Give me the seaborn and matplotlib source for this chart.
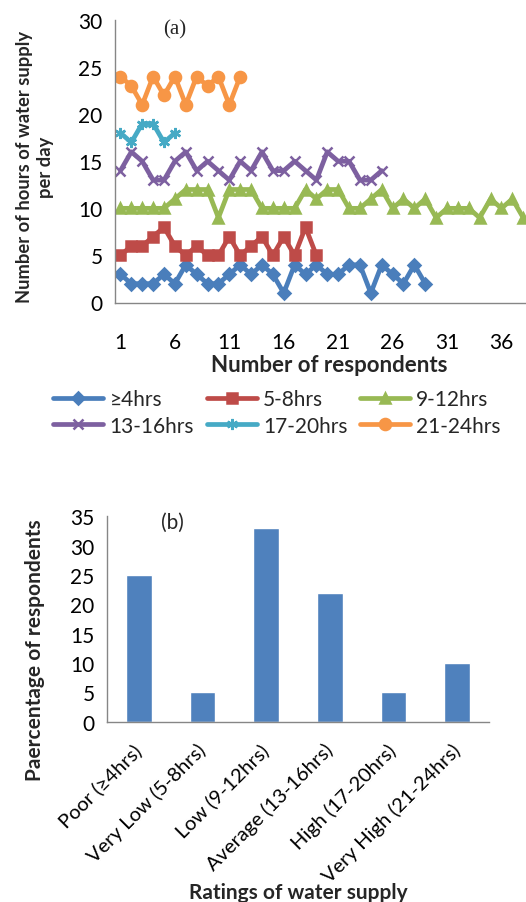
import numpy as np
import pandas as pd
import matplotlib
matplotlib.use("Agg")
import matplotlib.pyplot as plt
import seaborn as sns
from matplotlib.ticker import FixedLocator

# ---------------- data ----------------
series_names = ["≥4hrs", "5-8hrs", "9-12hrs", "13-16hrs", "17-20hrs", "21-24hrs"]
hours_le4 = [3, 2, 2, 2, 3, 2, 4, 3, 2, 2, 3, 4, 3, 4, 3, 1, 4, 3, 4, 3, 3, 4, 4, 1, 4, 3, 2, 4, 2]
hours_5_8 = [5, 6, 6, 7, 8, 6, 5, 6, 5, 5, 7, 5, 6, 7, 5, 7, 5, 8, 5]
hours_9_12 = [10, 10, 10, 10, 10, 11, 12, 12, 12, 9, 12, 12, 12, 10, 10, 10, 10, 12, 11, 12,
              12, 10, 10, 11, 12, 10, 11, 10, 11, 9, 10, 10, 10, 9, 11, 10, 11, 9]
hours_13_16 = [14, 16, 15, 13, 13, 15, 16, 14, 15, 14, 13, 15, 14, 16, 14, 14, 15, 14, 13, 16,
               15, 15, 13, 13, 14]
hours_17_20 = [18, 17, 19, 19, 17, 18]
hours_21_24 = [24, 23, 21, 24, 22, 24, 21, 24, 23, 24, 21, 24]

x_tick_labels = ["1", "6", "11", "16", "21", "26", "31", "36"]

ratings = ["Poor (≥4hrs)", "Very Low (5-8hrs)", "Low (9-12hrs)",
           "Average (13-16hrs)", "High (17-20hrs)", "Very High (21-24hrs)"]
percent_resp = [25, 5, 33, 22, 5, 10]

# ---------------- styles ----------------
colors = ["#4A7EBB", "#BE4B48", "#98B954", "#7D60A0", "#46AAC5", "#F79646"]
asterisk = (6, 2, 0)
markers = ["D", "s", "^", "x", asterisk, "o"]
msizes = [6.5, 7, 7.5, 7, 8, 8]

sns.set_theme(style="white")
plt.rcParams["font.family"] = ["Lato", "DejaVu Sans"]
plt.rcParams["axes.linewidth"] = 1.0

W, H = 526, 903
fig = plt.figure(figsize=(W / 100, H / 100), dpi=100)


def px(l, t, r, b):
    return [l / W, 1 - b / H, (r - l) / W, (b - t) / H]


TICK_FS = 15
cat_w = 10.886
n_cat = 38
ax1 = fig.add_axes(px(115, 21, 115 + n_cat * cat_w, 303.5))

all_series = [hours_le4, hours_5_8, hours_9_12, hours_13_16, hours_17_20, hours_21_24]
for name, vals, c, m, ms in zip(series_names, all_series, colors, markers, msizes):
    df = pd.DataFrame({"resp": np.arange(1, len(vals) + 1), "hours": vals})
    sns.lineplot(data=df, x="resp", y="hours", ax=ax1, color=c, marker=m,
                 markersize=ms, markeredgecolor=c, markerfacecolor=c,
                 markeredgewidth=1.8, linewidth=3.4, label=name, sort=False)

ax1.set_xlim(0.5, n_cat + 0.5)
ax1.set_ylim(0, 30)
ax1.set_yticks(range(0, 31, 5))
ax1.xaxis.set_major_locator(FixedLocator([int(t) for t in x_tick_labels]))
ax1.set_xticklabels(x_tick_labels)
ax1.xaxis.set_minor_locator(FixedLocator([0.5 + 5 * k for k in range(8)]))
ax1.tick_params(axis="x", which="major", length=0, pad=21, labelsize=TICK_FS, colors="black")
ax1.tick_params(axis="x", which="minor", length=6, width=1, color="#868686", direction="out")
ax1.tick_params(axis="y", which="major", length=5, width=1, color="#868686",
                direction="out", pad=4, labelsize=TICK_FS, labelcolor="black")
for s in ["top", "right"]:
    ax1.spines[s].set_visible(False)
for s in ["left", "bottom"]:
    ax1.spines[s].set_color("#868686")
ax1.set_xlabel("")
ax1.set_ylabel("")
ax1.text(0.145, 0.968, "(a)", transform=ax1.transAxes, ha="center", va="center",
         fontsize=15, family="Liberation Serif")

handles, labels = ax1.get_legend_handles_labels()
ax1.get_legend().remove()
order = [0, 3, 1, 4, 2, 5]
fig.legend([handles[i] for i in order], [labels[i] for i in order], ncol=3,
           loc="center", bbox_to_anchor=(277 / W, 1 - 413.5 / H), frameon=False,
           fontsize=15, handlelength=2.4, handletextpad=0.3, columnspacing=0.6,
           labelspacing=0.3)

fig.text(35 / W, 1 - 167 / H, "Number of hours of water supply\nper day", rotation=90,
         ha="center", va="center", fontsize=13.2, fontweight="bold",
         multialignment="center", linespacing=1.35)
fig.text(329 / W, 1 - 365 / H, "Number of respondents", ha="center", va="center",
         fontsize=16, fontweight="bold")

# ---------------- bottom bar chart ----------------
ax2 = fig.add_axes(px(107, 517.3, 489, 722.7))
df_b = pd.DataFrame({"rating": ratings, "pct": percent_resp})
sns.barplot(data=df_b, x="rating", y="pct", ax=ax2, color="#4F81BD", saturation=1,
            width=0.4)
ax2.set_xlim(-0.5, len(ratings) - 0.5)
ax2.set_ylim(0, 35)
ax2.set_yticks(range(0, 36, 5))
ax2.set_xticks(range(len(ratings)))
ax2.set_xticklabels(ratings, rotation=45, ha="right", va="center", rotation_mode="anchor")
ax2.xaxis.set_minor_locator(FixedLocator([k - 0.5 for k in range(len(ratings) + 1)]))
ax2.tick_params(axis="x", which="major", length=0, pad=18, labelsize=14.5, colors="black")
ax2.tick_params(axis="x", which="minor", length=6, width=1, color="#868686", direction="out")
ax2.tick_params(axis="y", which="major", length=5, width=1, color="#868686",
                direction="out", pad=4, labelsize=TICK_FS, labelcolor="black")
for s in ["top", "right"]:
    ax2.spines[s].set_visible(False)
for s in ["left", "bottom"]:
    ax2.spines[s].set_color("#868686")
ax2.set_xlabel("")
ax2.set_ylabel("")
ax2.text(0.17, 0.972, "(b)", transform=ax2.transAxes, ha="center", va="center", fontsize=15)

fig.text(35 / W, 1 - 650 / H, "Paercentage of respondents", rotation=90,
         ha="center", va="center", fontsize=15, fontweight="bold")
fig.text(298 / W, 1 - 893 / H, "Ratings of water supply", ha="center", va="center",
         fontsize=15, fontweight="bold")

fig.savefig("out.png", dpi=100)
